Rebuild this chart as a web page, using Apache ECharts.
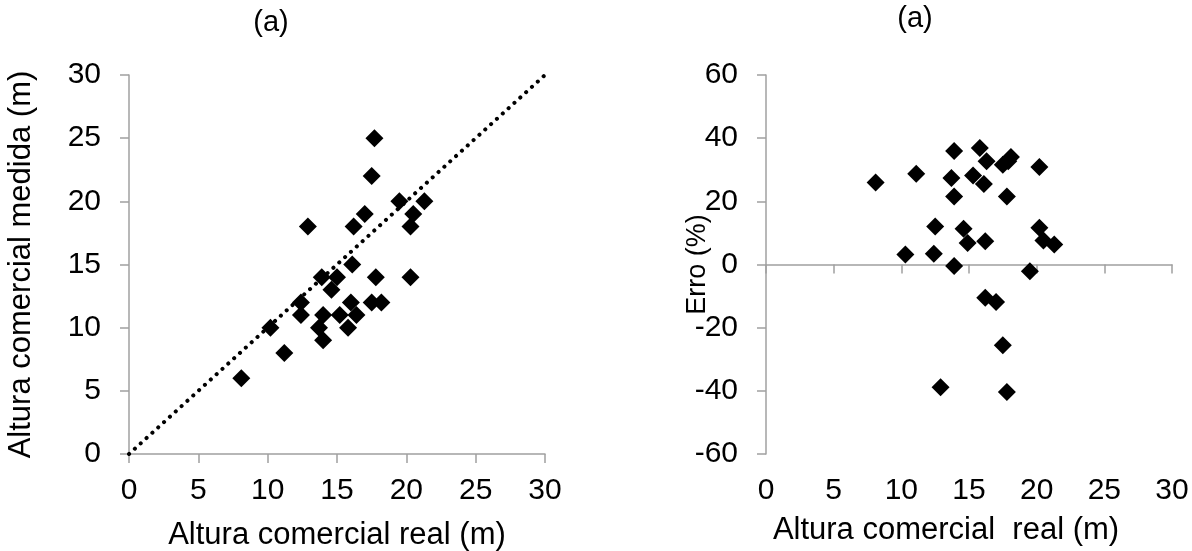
<!DOCTYPE html>
<html>
<head>
<meta charset="utf-8">
<script src="https://cdn.jsdelivr.net/npm/echarts@6/dist/echarts.min.js"></script>
<style>
html,body{margin:0;padding:0;background:#fff;}
#chart{width:1192px;height:551px;}
</style>
</head>
<body>
<div id="chart"></div>
<script>
// Left panel: measured vs real commercial height (m)
const leftReal = [17.7, 17.5, 19.5, 21.3, 20.5, 17.0, 12.9, 16.2, 20.3, 16.1, 13.9, 15.0, 17.8, 20.3, 14.6, 12.4, 16.0, 17.5, 18.2, 12.4, 14.0, 15.2, 16.4, 10.2, 13.7, 15.8, 14.0, 11.2, 8.1];
const leftMeasured = [25, 22, 20, 20, 19, 19, 18, 18, 18, 15, 14, 14, 14, 14, 13, 12, 12, 12, 12, 11, 11, 11, 11, 10, 10, 10, 9, 8, 6];
// 1:1 reference line
const refLineX = [0, 30];
const refLineY = [0, 30];
// Right panel: error (%) vs real commercial height (m)
const rightReal = [13.9, 15.8, 16.3, 17.5, 18.1, 17.9, 20.2, 11.1, 8.1, 13.7, 15.3, 16.1, 13.9, 17.8, 12.5, 14.6, 14.9, 16.2, 20.2, 20.5, 21.3, 10.3, 12.4, 13.9, 19.5, 16.2, 17.0, 17.5, 12.9, 17.8];
const rightError = [35.9, 36.9, 32.7, 31.6, 34.0, 32.7, 30.9, 28.7, 26.0, 27.4, 28.2, 25.5, 21.5, 21.5, 12.0, 11.3, 6.8, 7.4, 11.6, 7.6, 6.3, 3.2, 3.4, -0.5, -2.1, -10.5, -11.9, -25.6, -38.9, -40.4];
// Tick settings
const xTicks = {min: 0, max: 30, interval: 5};
const leftYTicks = {min: 0, max: 30, interval: 5};
const rightYTicks = {min: -60, max: 60, interval: 20};

const FONT = '"Liberation Sans", Arial, sans-serif';
const axisGrey = '#a0a0a0';
const tickFont = {color: '#000', fontSize: 30, fontFamily: FONT};
const nameFont = {color: '#000', fontSize: 31, fontFamily: FONT};

function zip(a, b) { return a.map((v, i) => [v, b[i]]); }

const chart = echarts.init(document.getElementById('chart'), null, {renderer: 'canvas'});
chart.setOption({
  animation: false,
  backgroundColor: '#fff',
  graphic: [
    {type: 'text', x: 271, y: 23, style: {text: '(a)', fill: '#000', fontSize: 29, fontFamily: FONT, textAlign: 'center', textVerticalAlign: 'middle'}},
    {type: 'text', x: 915, y: 19, style: {text: '(a)', fill: '#000', fontSize: 29, fontFamily: FONT, textAlign: 'center', textVerticalAlign: 'middle'}}
  ],
  grid: [
    {left: 129, top: 75, width: 416, height: 379, containLabel: false, outerBoundsMode: 'none'},
    {left: 766, top: 75, width: 406, height: 379, containLabel: false, outerBoundsMode: 'none'}
  ],
  xAxis: [
    {
      gridIndex: 0, type: 'value', min: xTicks.min, max: xTicks.max, interval: xTicks.interval,
      name: 'Altura comercial real (m)', nameLocation: 'middle', nameGap: 66, nameTextStyle: nameFont,
      nameMoveOverlap: false,
      axisLine: {show: true, onZero: false, lineStyle: {color: axisGrey, width: 1.5}},
      axisTick: {show: true, inside: false, length: 9, lineStyle: {color: axisGrey, width: 1.5}},
      axisLabel: Object.assign({margin: 22}, tickFont),
      splitLine: {show: false}
    },
    {
      gridIndex: 1, type: 'value', min: xTicks.min, max: xTicks.max, interval: xTicks.interval,
      position: 'bottom',
      axisLine: {show: true, onZero: true, lineStyle: {color: axisGrey, width: 1.5}},
      axisTick: {show: true, inside: false, length: 9, lineStyle: {color: axisGrey, width: 1.5}},
      axisLabel: {show: false},
      splitLine: {show: false}
    },
    {
      gridIndex: 1, type: 'value', min: xTicks.min, max: xTicks.max, interval: xTicks.interval,
      position: 'bottom',
      name: 'Altura comercial  real (m)', nameLocation: 'middle', nameGap: 61,
      nameMoveOverlap: false,
      nameTextStyle: Object.assign({padding: [0, 46, 0, 0]}, nameFont),
      axisLine: {show: false, onZero: false},
      axisTick: {show: false},
      axisLabel: Object.assign({margin: 22}, tickFont),
      splitLine: {show: false}
    }
  ],
  yAxis: [
    {
      gridIndex: 0, type: 'value', min: leftYTicks.min, max: leftYTicks.max, interval: leftYTicks.interval,
      name: 'Altura comercial medida (m)', nameLocation: 'middle', nameGap: 92, nameTextStyle: nameFont,
      nameMoveOverlap: false,
      axisLine: {show: true, onZero: false, lineStyle: {color: axisGrey, width: 1.5}},
      axisTick: {show: true, inside: false, length: 9, lineStyle: {color: axisGrey, width: 1.5}},
      axisLabel: Object.assign({margin: 28}, tickFont),
      splitLine: {show: false}
    },
    {
      gridIndex: 1, type: 'value', min: rightYTicks.min, max: rightYTicks.max, interval: rightYTicks.interval,
      name: 'Erro (%)', nameLocation: 'middle', nameGap: 55,
      nameTextStyle: {color: '#000', fontSize: 27, fontFamily: FONT},
      nameMoveOverlap: false,
      axisLine: {show: true, onZero: false, lineStyle: {color: axisGrey, width: 1.5}},
      axisTick: {show: true, inside: false, length: 9, lineStyle: {color: axisGrey, width: 1.5}},
      axisLabel: Object.assign({margin: 28}, tickFont),
      splitLine: {show: false}
    }
  ],
  series: [
    {
      type: 'line', xAxisIndex: 0, yAxisIndex: 0,
      data: zip(refLineX, refLineY), symbol: 'none', silent: true, z: 1,
      lineStyle: {color: '#000', width: 4, type: [0.1, 7.8], cap: 'round'}
    },
    {
      type: 'scatter', xAxisIndex: 0, yAxisIndex: 0,
      data: zip(leftReal, leftMeasured), symbol: 'diamond', symbolSize: [18, 18], z: 2,
      itemStyle: {color: '#000', opacity: 1}
    },
    {
      type: 'scatter', xAxisIndex: 1, yAxisIndex: 1,
      data: zip(rightReal, rightError), symbol: 'diamond', symbolSize: [18, 18], z: 2,
      itemStyle: {color: '#000', opacity: 1}
    }
  ]
});
</script>
</body>
</html>
